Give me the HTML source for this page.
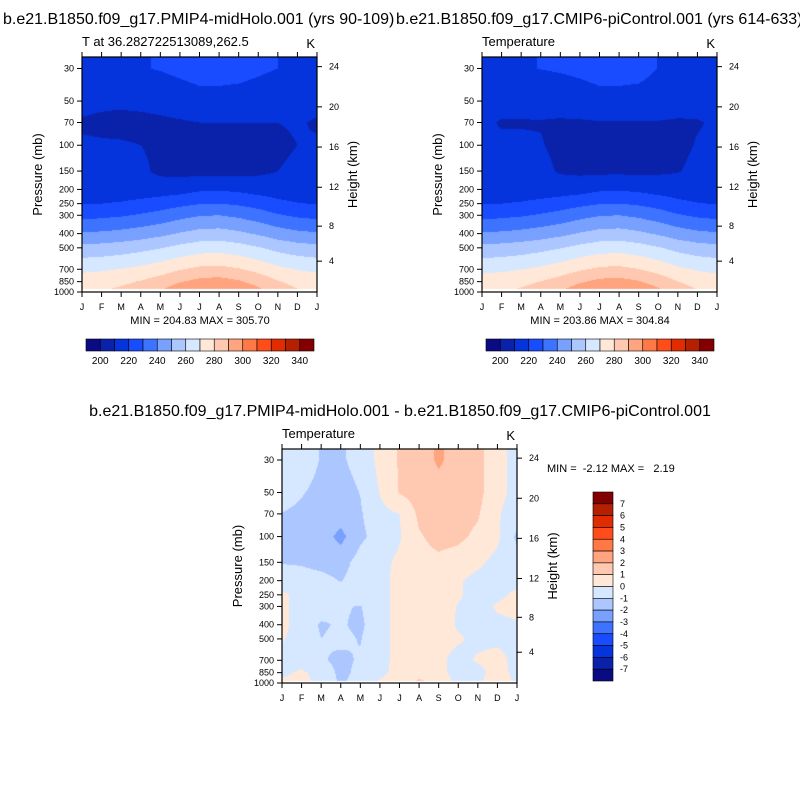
<!DOCTYPE html>
<html><head><meta charset="utf-8"><style>
body{margin:0;background:#fff;width:800px;height:800px;overflow:hidden;position:relative;font-family:"Liberation Sans",sans-serif}
canvas{position:absolute;left:0;top:0}
svg{position:absolute;left:0;top:0}
</style></head><body>
<canvas id="cv" width="800" height="800"></canvas>
<svg id="sv" width="800" height="800"></svg>
<script>
const months=["J","F","M","A","M","J","J","A","S","O","N","D","J"];
const pLevels=[30,50,70,100,150,200,250,300,400,500,700,850,1000];
const pTicks=[30,50,70,100,150,200,250,300,400,500,700,850,1000];
const hTicks=[4,8,12,16,20,24];
const tLevelLabels=[200,220,240,260,280,300,320,340];
const dLevelLabels=[7,6,5,4,3,2,1,0,-1,-2,-3,-4,-5,-6,-7];
const colors=["#0a0a82","#0a22aa","#0533dc","#1a4cff","#3d73ff","#78a0ff","#acc6ff","#d6e8ff","#ffe8d8","#ffc8b0","#ffa47e","#ff7845","#ff4c1a","#e02c00","#b42000","#840000"];
const tMid=[
[218,218.5,219,219.5,220.5,222,223.5,223.5,223,221.5,220,219,218],
[213,212,212,213,214,215.5,217,217,216.5,215.5,214,213,213],
[209,208,207,207,208,209,210,210,210,210,210,211,209],
[211,211,211,210,208,207,207,207,207,207,208,210,211],
[213,213,213,212,208,207,207,207,207,208,210,212,213],
[214,214,214,214,215,216,218.5,219,218,216,215,214,214],
[219.5,220,221,223,225,227.5,229.5,230,228.5,226,222.5,220.5,219.5],
[227,227.7,229,231,233.5,236.8,239.4,240,238,234.8,230.9,228.3,227],
[241,241.7,243,245,247.5,250.8,253.4,254,252,248.8,244.9,242.3,241],
[253,253.7,255,257,259.5,262.8,265.4,266,264,260.8,256.9,254.3,253],
[268,268.8,270.3,272.5,275.5,279.3,282.3,283,280.8,277,272.5,269.5,268],
[275,276,277.9,280.7,284.5,289.3,293,294,291.2,286.4,280.7,276.9,275],
[279,280.2,282.6,286.2,291,297,301.8,303,299.4,293.4,286.2,281.4,279]];
const tCtl=[
[218,218.5,219,220.2,221,222,223.5,223.5,223,219.8,219.5,219,218],
[213,212,212,213,214,215.5,217,217,216.5,215.5,214,213,213],
[211,209.6,209.6,209.6,209,209,209.5,209.5,209.5,209.5,209,209.5,211],
[211,211,211,210.5,208,207,207,207,207,207,208,210.5,211],
[213,213,213,212.5,209,208,208,208,208,208.5,209.5,212,213],
[214,214,214,214,215,216,218.5,219,218,216,215,214,214],
[219.5,220,221,223,225,227.5,229.5,230,228.5,226,222.5,220.5,219.5],
[227,227.7,229,231,233.5,236.8,239.4,240,238,234.8,230.9,228.3,227],
[241,241.7,243,245,247.5,250.8,253.4,254,252,248.8,244.9,242.3,241],
[253,253.7,255,257,259.5,262.8,265.4,266,264,260.8,256.9,254.3,253],
[267.5,268.3,269.8,272,275,278.8,281.8,282.5,280.3,276.5,272,269,267.5],
[274.5,275.5,277.4,280.2,284,288.8,292.5,293.5,290.7,285.9,280.2,276.4,274.5],
[278.5,279.7,282.1,285.7,290.5,296.5,301.3,302.5,298.9,292.9,285.7,280.9,278.5]];
const tDiff=[
[-0.5,-0.6,-1.05,-1.1,-0.75,0.3,1.1,1.5,2.15,1.6,1.3,0.3,-0.3],
[-0.7,-0.95,-1.2,-1.3,-0.98,0.05,1.05,1.5,1.6,1.5,1.3,0.3,-0.3],
[-1.02,-1.15,-1.3,-1.5,-1.1,-0.3,0.0,1.2,1.5,1.4,1.1,0.1,-0.5],
[-1.2,-1.3,-1.5,-2.3,-1.2,-0.6,-0.1,0.9,1.3,1.2,0.8,0.2,-1.2],
[-1.05,-1.1,-1.3,-1.4,-0.6,-0.3,0.2,0.7,0.8,0.6,0.2,-0.3,-0.6],
[-0.5,-0.6,-0.7,-1.05,-0.5,-0.3,0.3,0.6,0.5,0.1,-0.3,-0.4,-0.3],
[0.2,-0.4,-0.5,-0.5,-0.5,-0.3,0.3,0.5,0.4,0.1,-0.3,-0.2,0.2],
[0.3,-0.5,-0.6,-0.9,-1.05,-0.3,0.3,0.5,0.4,-0.05,-0.3,0.1,0.3],
[0.3,-0.5,-1.1,-0.9,-1.2,-0.3,0.3,0.5,0.4,-0.1,-0.3,-0.2,-0.1],
[0.1,-0.5,-1.0,-0.8,-1.05,-0.3,0.3,0.4,0.3,0.1,-0.2,-0.2,-0.2],
[-0.4,-0.5,-0.9,-1.2,-0.9,-0.3,0.3,0.4,0.2,-0.3,0.1,0.3,-0.3],
[-0.3,0.2,-0.5,-1.2,-0.8,-0.3,0.4,0.7,0.3,-0.4,-0.3,0.4,-0.3],
[0.3,0.5,-0.5,-1.1,-0.7,0.2,0.6,1.2,0.9,-0.4,-0.3,0.9,-0.3]];

const NS="http://www.w3.org/2000/svg";
const sv=document.getElementById('sv');
const ctx=document.getElementById('cv').getContext('2d');
function mk(tag,attrs,parent,text){const e=document.createElementNS(NS,tag);for(const k in attrs)e.setAttribute(k,attrs[k]);if(text!==undefined)e.textContent=text;(parent||sv).appendChild(e);return e;}
function hToP(z){return z<=11?1013.25*Math.pow(1-0.0065*z*1000/288.15,5.2559):226.32*Math.exp(-(z-11)/6.3416);}
const L=Math.log10;
function interp(data,m,p){
  const lp=L(p);let i=0;
  while(i<pLevels.length-2&&L(pLevels[i+1])<lp)i++;
  let fy=(lp-L(pLevels[i]))/(L(pLevels[i+1])-L(pLevels[i]));fy=Math.max(0,Math.min(1,fy));
  let j=Math.min(11,Math.floor(m));let fx=m-j;
  const a=data[i][j],b=data[i][j+1],c=data[i+1][j],d=data[i+1][j+1];
  return (a*(1-fx)+b*fx)*(1-fy)+(c*(1-fx)+d*fx)*fy;
}
function panel(o){
  const {x0,x1,yTop,y30,y1000,fillBot,data,idx,name}=o;
  const g=mk('g',{});
  const sc=(y1000-y30)/L(1000/30);
  const yOf=p=>y30+(L(p)-L(30))*sc;
  const xOf=m=>x0+m*(x1-x0)/12;
  for(let y=yTop;y<fillBot;y++){
    const p=Math.pow(10,L(30)+(y+0.5-y30)/sc);
    for(let x=x0;x<x1;x++){
      const m=(x+0.5-x0)/(x1-x0)*12;
      ctx.fillStyle=colors[idx(interp(data,m,p))];
      ctx.fillRect(x,y,1,1);
    }
  }
  mk('rect',{x:x0,y:yTop,width:x1-x0,height:y1000-yTop,fill:'none',stroke:'#000','stroke-width':1.2},g);
  months.forEach((mn,k)=>{
    const x=xOf(k);
    mk('line',{x1:x,x2:x,y1:y1000,y2:y1000+5,stroke:'#000'},g);
    mk('line',{x1:x,x2:x,y1:yTop,y2:yTop-5,stroke:'#000'},g);
    const t=mk('text',{x:x,y:y1000+18,'font-size':9,'text-anchor':'middle'},g,mn);
    
  });
  pTicks.forEach(p=>{
    const y=yOf(p);
    mk('line',{x1:x0-5,x2:x0,y1:y,y2:y,stroke:'#000'},g);
    const t=mk('text',{x:x0-8,y:y+3,'font-size':9,'text-anchor':'end'},g,p);
    
  });
  hTicks.forEach(h=>{
    const y=yOf(hToP(h));
    mk('line',{x1:x1,x2:x1+5,y1:y,y2:y,stroke:'#000'},g);
    const t=mk('text',{x:x1+12,y:y+3,'font-size':9},g,h);
    
  });
  const yc=(yTop+y1000)/2;
  const a=mk('text',{x:x0-40,y:yc,'font-size':13,'text-anchor':'middle',transform:`rotate(-90 ${x0-40} ${yc})`},g,'Pressure (mb)');
  
  const b=mk('text',{x:x1+40,y:yc,'font-size':13,'text-anchor':'middle',transform:`rotate(-90 ${x1+40} ${yc})`},g,'Height (km)');
  
  const s=mk('text',{x:x0,y:yTop-11,'font-size':13},g,o.sub);
  
  const k=mk('text',{x:x1-2,y:yTop-9,'font-size':13,'text-anchor':'end'},g,'K');
  
}
const tIdx=v=>Math.max(0,Math.min(15,Math.floor((v-200)/10)+1));
const dIdx=v=>Math.max(0,Math.min(15,Math.floor(v)+8));
panel({x0:82,x1:317,yTop:57,y30:68.5,y1000:292,fillBot:289,data:tMid,idx:tIdx,name:'midholo-panel',sub:'T at 36.282722513089,262.5'});
panel({x0:482,x1:717,yTop:57,y30:68.5,y1000:292,fillBot:289,data:tCtl,idx:tIdx,name:'picontrol-panel',sub:'Temperature'});
panel({x0:282,x1:517,yTop:449,y30:460,y1000:683,fillBot:681,data:tDiff,idx:dIdx,name:'difference-panel',sub:'Temperature'});

function txt(x,y,s,size,anchor,name){const t=mk('text',{x:x,y:y,'font-size':size,'text-anchor':anchor||'start'},sv,s);t.style.whiteSpace='pre';return t;}
txt(3,24,'b.e21.B1850.f09_g17.PMIP4-midHolo.001 (yrs 90-109)',16,'start','left-title');
txt(396,24,'b.e21.B1850.f09_g17.CMIP6-piControl.001 (yrs 614-633)',16,'start','right-title');
txt(400,416,'b.e21.B1850.f09_g17.PMIP4-midHolo.001 - b.e21.B1850.f09_g17.CMIP6-piControl.001',16,'middle','difference-title');
txt(200,324,'MIN = 204.83 MAX = 305.70',11,'middle','left-min-max');
txt(600,324,'MIN = 203.86 MAX = 304.84',11,'middle','right-min-max');
txt(547,472,'MIN =  -2.12 MAX =   2.19',11,'start','diff-min-max');

function hbar(x0,name){
  const g=mk('g',{});
  const w=228/16;
  colors.forEach((c,i)=>mk('rect',{x:x0+i*w,y:339,width:w,height:12,fill:c,stroke:'#000','stroke-width':0.6},g));
  tLevelLabels.forEach((v,i)=>{const t=mk('text',{x:x0+w*(1+2*i),y:364,'font-size':10,'text-anchor':'middle'},g,v);});
}
hbar(86,'left-colorbar');hbar(486,'right-colorbar');
(function(){
  const g=mk('g',{});
  const h=189/16;
  colors.slice().reverse().forEach((c,i)=>mk('rect',{x:593,y:492+i*h,width:20,height:h,fill:c,stroke:'#000','stroke-width':0.6},g));
  dLevelLabels.forEach((v,i)=>{const t=mk('text',{x:620,y:492+h*(i+1)+3,'font-size':9},g,v);});
})();
</script>
</body></html>
